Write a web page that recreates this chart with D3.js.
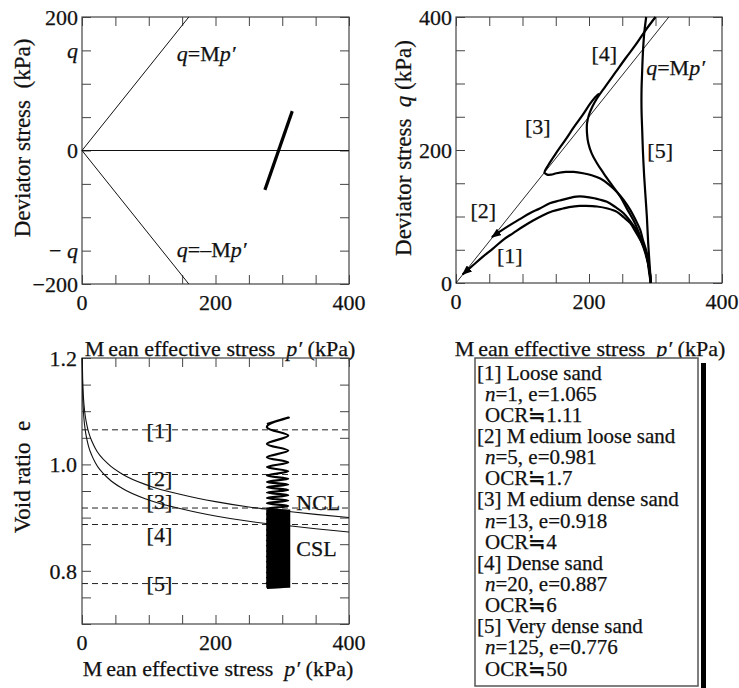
<!DOCTYPE html>
<html>
<head>
<meta charset="utf-8">
<script src="https://cdn.jsdelivr.net/npm/d3@7"></script>
<style>
  body { margin: 0; background: #fff; }
  text { fill: #111; stroke: #111; stroke-width: 0.25; white-space: pre; }
</style>
</head>
<body>
<svg id="chart" width="739" height="688" font-family="'Liberation Serif', 'Times New Roman', serif"></svg>
<script>
// ---------- data ----------
const pTicks = [0, 50, 100, 150, 200, 250, 300, 350, 400];
const pLabels = [0, 200, 400];

// top-left : q - p' (cyclic path only)
const qTicksA = [-200, -150, -100, -50, 0, 50, 100, 150, 200];
const qLabelsA = [
  { v: 200, t: '200' }, { v: 150, t: 'q', it: true }, { v: 0, t: '0' },
  { v: -150, t: '− ', it2: 'q' }, { v: -200, t: '−200' }
];
const csLinePos = [[0, 0], [160, 200]];
const csLineNeg = [[0, 0], [160, -200]];
const zeroLine = [[0, 0], [400, 0]];
const cyclicPathA = [[274, -59], [315, 59]];

// top-right : monotonic loading paths after cyclic history
const qTicksB = [0, 50, 100, 150, 200, 250, 300, 350, 400];
const qLabelsB = [0, 200, 400];
const csLineB = [[0, 0], [320, 400]];
const path1 = [[293, 0], [291, 12], [287, 40], [282, 55], [277, 65], [270, 77], [262, 90], [252, 99],
  [242, 107], [228, 112], [212, 115], [195, 116], [186, 116], [170, 114], [161, 112], [145, 108],
  [131, 102], [116, 94], [101, 85], [86, 75], [71, 65], [56, 52], [41, 40], [26, 27], [10, 13]];
const path2 = [[293, 0], [291, 18], [285, 44], [278, 64], [271, 80], [262, 93], [252, 105], [240, 114],
  [227, 122], [210, 127], [192, 130], [181, 130], [171, 128], [156, 124], [141, 120], [126, 112],
  [111, 105], [96, 96], [81, 87], [67, 78], [54, 69]];
const path3 = [[293, 0], [291, 20], [287, 45], [281, 65], [277, 80], [270, 95], [262, 110], [252, 125],
  [242, 137], [230, 148], [217, 157], [204, 162], [191, 165], [177, 167], [165, 167], [151, 165],
  [143, 163], [137, 163], [133, 166], [138, 176], [151, 196], [165, 216], [177, 234], [190, 252],
  [202, 270], [210, 280], [214, 284], [212, 279]];
const path4 = [[293, 0], [291, 20], [284, 50], [277, 70], [269, 90], [258, 110], [247, 130], [234, 148],
  [222, 165], [212, 180], [204, 195], [199, 210], [197, 225], [197, 240], [200, 253], [205, 265],
  [211, 276], [225, 296], [240, 317], [255, 338], [270, 358], [285, 380], [300, 400]];
const path5 = [[293, 0], [291, 30], [289, 60], [287, 100], [285, 130], [283, 160], [281, 200], [280, 230],
  [279, 260], [279, 290], [280, 320], [281, 345], [283, 375], [286, 400]];
const pathLabelsB = [
  { t: '[1]', p: 81, q: 42 }, { t: '[2]', p: 41, q: 109 }, { t: '[3]', p: 123, q: 236 },
  { t: '[4]', p: 223, q: 345 }, { t: '[5]', p: 307, q: 199 }
];

// bottom-left : e - p'
const eTicks = [0.7, 0.75, 0.8, 0.85, 0.9, 0.95, 1.0, 1.05, 1.1, 1.15, 1.2];
const eLabels = [0.8, 1.0, 1.2];
const nclP = [0.4, 1, 2, 3, 5, 7.5, 10, 15, 20, 40, 60, 100, 150, 200, 250, 300, 350, 400];
const nclE = [1.2, 1.16, 1.13, 1.112, 1.09, 1.073, 1.06, 1.043, 1.03, 1.0, 0.982, 0.96, 0.943, 0.93, 0.92, 0.913, 0.906, 0.9];
const cslP = [0.2, 1, 2, 3, 5, 7.5, 10, 15, 20, 40, 60, 100, 150, 200, 250, 300, 350, 400];
const cslE = [1.2, 1.133, 1.103, 1.085, 1.063, 1.046, 1.033, 1.016, 1.003, 0.973, 0.955, 0.933, 0.916, 0.903, 0.893, 0.886, 0.879, 0.873];
const sandLevels = [1.065, 0.981, 0.918, 0.887, 0.776];
const sandLabelOffset = [0, -0.008, 0.013, -0.018, 0];
const cycleP = [277, 309];   // left / right turning p'
const cycleE = [1.076, 1.088, 1.070, 1.054, 1.0385, 1.026, 1.0135, 1.004, 0.995, 0.987, 0.979, 0.973,
  0.967, 0.962, 0.957, 0.952, 0.947, 0.942, 0.937, 0.932, 0.927, 0.922, 0.917, 0.912, 0.907, 0.902,
  0.897, 0.892, 0.887, 0.882, 0.877, 0.872, 0.867, 0.862, 0.857, 0.852, 0.847, 0.842, 0.837, 0.832,
  0.827, 0.822, 0.817, 0.812, 0.807, 0.802, 0.797, 0.792, 0.787, 0.782, 0.777, 0.772, 0.768];
// band where the cycles are too dense to separate
const denseBandE = [0.915, 0.768];
const denseBandP = [276, 312];

// legend
const sandNames = ['Loose sand', 'Medium loose sand', 'Medium dense sand', 'Dense sand', 'Very dense sand'];
const cycleCounts = [1, 5, 13, 20, 125];
const voidRatios = ['1.065', '0.981', '0.918', '0.887', '0.776'];
const ocrValues = ['1.11', '1.7', '4', '6', '50'];

// ---------- drawing ----------
const svg = d3.select('#chart');
const FS = 22;      // ticks, annotations, x titles
const FS_Y = 23;    // rotated y titles
const TICK = 9;

function panel(box, xDomain, yDomain, xTicks, yTicks) {
  const g = svg.append('g').attr('transform', `translate(${box.x},${box.y})`);
  const x = d3.scaleLinear().domain(xDomain).range([0, box.w]);
  const y = d3.scaleLinear().domain(yDomain).range([box.h, 0]);
  g.append('g').attr('transform', `translate(0,${box.h})`)
    .call(d3.axisBottom(x).tickValues(xTicks).tickSizeInner(-TICK).tickSizeOuter(0).tickFormat(''));
  g.append('g')
    .call(d3.axisTop(x).tickValues(xTicks).tickSizeInner(-TICK).tickSizeOuter(0).tickFormat(''));
  g.append('g')
    .call(d3.axisLeft(y).tickValues(yTicks).tickSizeInner(-TICK).tickSizeOuter(0).tickFormat(''));
  g.append('g').attr('transform', `translate(${box.w},0)`)
    .call(d3.axisRight(y).tickValues(yTicks).tickSizeInner(-TICK).tickSizeOuter(0).tickFormat(''));
  g.selectAll('.domain').remove();
  g.selectAll('.tick line').attr('stroke', '#444').attr('stroke-width', 1);
  g.append('rect').attr('width', box.w).attr('height', box.h)
    .attr('fill', 'none').attr('stroke', '#444').attr('stroke-width', 1.2);
  return { g, x, y, box };
}

function xTickLabels(P, vals) {
  P.g.selectAll(null).data(vals).join('text')
    .attr('x', d => P.x(d)).attr('y', P.box.h + 18).attr('dy', '0.35em')
    .attr('text-anchor', 'middle').attr('font-size', FS).text(d => d);
}

function xTitle(P, cx, cy) {
  const t = svg.append('text').attr('x', cx).attr('y', cy).attr('dy', '0.35em')
    .attr('text-anchor', 'middle').attr('font-size', FS);
  t.append('tspan').text('M');
  t.append('tspan').attr('dx', 4).text('ean effective stress  ');
  t.append('tspan').attr('font-style', 'italic').text('p′');
  t.append('tspan').text(' (kPa)');
}

function mpLabel(g, x, y, neg) {
  const t = g.append('text').attr('x', x).attr('y', y).attr('dy', '0.35em').attr('font-size', FS);
  t.append('tspan').attr('font-style', 'italic').text('q');
  t.append('tspan').text(neg ? '=–M' : '=M');
  t.append('tspan').attr('font-style', 'italic').text('p′');
}

// ----- panel A -----
const A = panel({ x: 82, y: 17, w: 267, h: 267 }, [0, 400], [-200, 200], pTicks, qTicksA);
const lineA = d3.line().x(d => A.x(d[0])).y(d => A.y(d[1]));
[csLinePos, csLineNeg, zeroLine].forEach(d => {
  A.g.append('path').attr('d', lineA(d)).attr('fill', 'none').attr('stroke', '#111').attr('stroke-width', 1);
});
A.g.append('path').attr('d', lineA(cyclicPathA)).attr('fill', 'none')
  .attr('stroke', '#000').attr('stroke-width', 3.2);
xTickLabels(A, pLabels);
qLabelsA.forEach(d => {
  const t = A.g.append('text').attr('x', -4).attr('y', A.y(d.v)).attr('dy', '0.35em')
    .attr('text-anchor', 'end').attr('font-size', FS);
  t.append('tspan').attr('font-style', d.it ? 'italic' : 'normal').text(d.t);
  if (d.it2) t.append('tspan').attr('font-style', 'italic').text(d.it2);
});
mpLabel(A.g, A.x(142), A.y(146), false);
mpLabel(A.g, A.x(142), A.y(-148), true);
xTitle(A, 220, 348);
svg.append('text').attr('transform', 'translate(22,138) rotate(-90)').attr('dy', '0.35em')
  .attr('text-anchor', 'middle').attr('font-size', FS_Y).text('Deviator stress  (kPa)');

// ----- panel B -----
const B = panel({ x: 456, y: 17, w: 266, h: 266 }, [0, 400], [0, 400], pTicks, qTicksB);
const defs = svg.append('defs');
defs.append('marker').attr('id', 'arrow').attr('viewBox', '0 0 10 8')
  .attr('refX', 9).attr('refY', 4).attr('markerWidth', 10).attr('markerHeight', 8)
  .attr('markerUnits', 'userSpaceOnUse').attr('orient', 'auto')
  .append('path').attr('d', 'M0,0 L10,4 L0,8 Z').attr('fill', '#000');
const lineB = d3.line().x(d => B.x(d[0])).y(d => B.y(d[1]));
const curveB = d3.line().x(d => B.x(d[0])).y(d => B.y(d[1])).curve(d3.curveCatmullRom.alpha(0.5));
B.g.append('path').attr('d', lineB(csLineB)).attr('fill', 'none').attr('stroke', '#111').attr('stroke-width', 0.9);
[path1, path2].forEach(d => {
  B.g.append('path').attr('d', curveB(d)).attr('fill', 'none').attr('stroke', '#000')
    .attr('stroke-width', 2.2).attr('marker-end', 'url(#arrow)');
});
[path3, path4, path5].forEach(d => {
  B.g.append('path').attr('d', curveB(d)).attr('fill', 'none').attr('stroke', '#000').attr('stroke-width', 2.2);
});
B.g.selectAll(null).data(pathLabelsB).join('text')
  .attr('x', d => B.x(d.p)).attr('y', d => B.y(d.q)).attr('dy', '0.35em')
  .attr('text-anchor', 'middle').attr('font-size', FS).text(d => d.t);
mpLabel(B.g, B.x(286), B.y(325), false);
xTickLabels(B, pLabels);
B.g.selectAll(null).data(qLabelsB).join('text')
  .attr('x', -4).attr('y', d => B.y(d)).attr('dy', '0.35em')
  .attr('text-anchor', 'end').attr('font-size', FS).text(d => d);
xTitle(B, 590, 348);
{
  const t = svg.append('text').attr('transform', 'translate(403,148) rotate(-90)').attr('dy', '0.35em')
    .attr('text-anchor', 'middle').attr('font-size', FS_Y);
  t.append('tspan').text('Deviator stress  ');
  t.append('tspan').attr('font-style', 'italic').text('q');
  t.append('tspan').text(' (kPa)');
}

// ----- panel C -----
const C = panel({ x: 82, y: 358, w: 267, h: 266 }, [0, 400], [0.7, 1.2], pTicks, eTicks);
const lineC = d3.line().x(d => C.x(d[0])).y(d => C.y(d[1])).curve(d3.curveMonotoneX);
sandLevels.forEach((e, i) => {
  C.g.append('line').attr('x1', 0).attr('x2', C.box.w).attr('y1', C.y(e)).attr('y2', C.y(e))
    .attr('stroke', '#222').attr('stroke-width', 1).attr('stroke-dasharray', '6,4');
  C.g.append('text').attr('x', C.x(116)).attr('y', C.y(e + sandLabelOffset[i])).attr('dy', '0.35em')
    .attr('text-anchor', 'middle').attr('font-size', FS).text(`[${i + 1}]`);
});
C.g.append('path').attr('d', lineC(nclP.map((p, i) => [p, nclE[i]]))).attr('fill', 'none')
  .attr('stroke', '#111').attr('stroke-width', 1.1);
C.g.append('path').attr('d', lineC(cslP.map((p, i) => [p, cslE[i]]))).attr('fill', 'none')
  .attr('stroke', '#111').attr('stroke-width', 1.1);
C.g.append('path')
  .attr('d', d3.area().x0(d => C.x(denseBandP[0])).x1(d => C.x(denseBandP[1])).y(d => C.y(d))(denseBandE))
  .attr('fill', '#000');
const cycleLine = d3.line().x(d => C.x(d[0])).y(d => C.y(d[1])).curve(d3.curveNatural);
C.g.append('path').attr('d', cycleLine(cycleE.map((e, i) => [cycleP[i % 2], e])))
  .attr('fill', 'none').attr('stroke', '#000').attr('stroke-width', 2.2);
C.g.append('text').attr('x', C.x(321)).attr('y', C.y(0.929)).attr('dy', '0.35em').attr('font-size', FS).text('NCL');
C.g.append('text').attr('x', C.x(321)).attr('y', C.y(0.843)).attr('dy', '0.35em').attr('font-size', FS).text('CSL');
xTickLabels(C, pLabels);
C.g.selectAll(null).data(eLabels).join('text')
  .attr('x', -5).attr('y', d => C.y(d)).attr('dy', '0.35em')
  .attr('text-anchor', 'end').attr('font-size', FS).text(d => d.toFixed(1));
xTitle(C, 218, 668);
svg.append('text').attr('transform', 'translate(22,477) rotate(-90)').attr('dy', '0.35em')
  .attr('text-anchor', 'middle').attr('font-size', FS_Y).text('Void ratio  e');

// ----- legend -----
svg.append('rect').attr('x', 701).attr('y', 363).attr('width', 5).attr('height', 325).attr('fill', '#000');
svg.append('rect').attr('x', 475).attr('y', 358).attr('width', 223).attr('height', 328)
  .attr('fill', '#fff').attr('stroke', '#555').attr('stroke-width', 1.5);
const lg = svg.append('g').attr('font-size', 21);
const rowH = 21.14;
sandNames.forEach((name, i) => {
  const y0 = 372.3 + i * 3 * rowH;
  const t1 = lg.append('text').attr('x', 477).attr('y', y0).attr('dy', '0.35em');
  if (name.startsWith('Medium')) {
    t1.text(`[${i + 1}] M`);
    t1.append('tspan').attr('dx', 4).text(name.slice(1));
  } else {
    t1.text(`[${i + 1}] ${name}`);
  }
  const t2 = lg.append('text').attr('x', 485).attr('y', y0 + rowH).attr('dy', '0.35em');
  t2.append('tspan').attr('font-style', 'italic').text('n');
  t2.append('tspan').text(`=${cycleCounts[i]}, e=${voidRatios[i]}`);
  lg.append('text').attr('x', 485).attr('y', y0 + 2 * rowH).attr('dy', '0.35em')
    .text(`OCR≒${ocrValues[i]}`);
});
</script>
</body>
</html>
